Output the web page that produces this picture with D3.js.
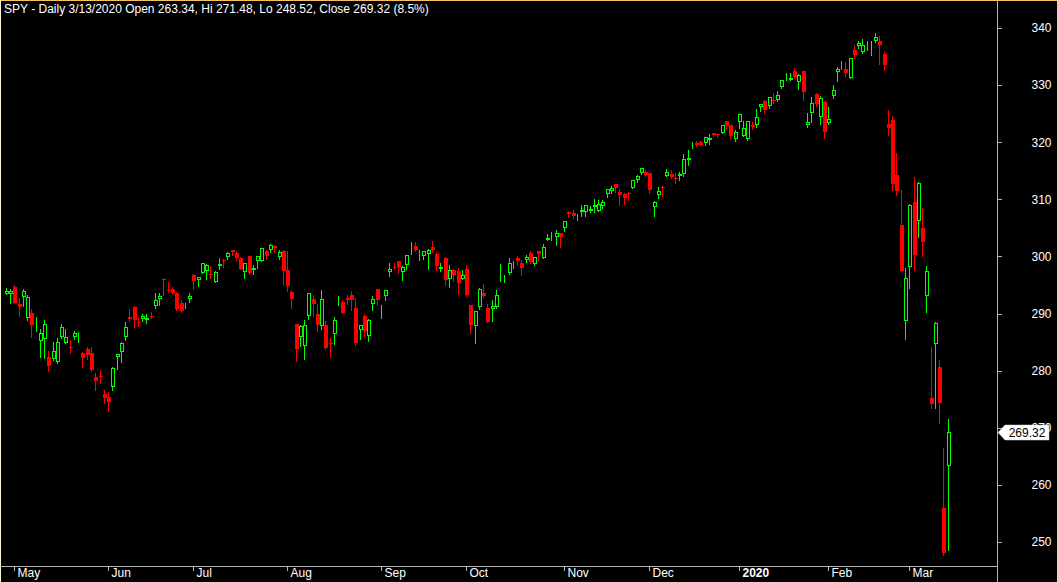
<!DOCTYPE html>
<html><head><meta charset="utf-8">
<script src="https://cdn.jsdelivr.net/npm/d3@7"></script>
<style>
html,body{margin:0;padding:0;background:#000;overflow:hidden}
svg{display:block}
text{font-family:"Liberation Sans",Arial,sans-serif}
</style></head>
<body>
<svg id="chart" width="1057" height="582"></svg>
<script>
// ---- data (SPY daily) ----
const dates = ["2019-04-29","2019-04-30","2019-05-01","2019-05-02","2019-05-03","2019-05-06","2019-05-07","2019-05-08","2019-05-09","2019-05-10","2019-05-13","2019-05-14","2019-05-15","2019-05-16","2019-05-17","2019-05-20","2019-05-21","2019-05-22","2019-05-23","2019-05-24","2019-05-28","2019-05-29","2019-05-30","2019-05-31",
"2019-06-03","2019-06-04","2019-06-05","2019-06-06","2019-06-07","2019-06-10","2019-06-11","2019-06-12","2019-06-13","2019-06-14","2019-06-17","2019-06-18","2019-06-19","2019-06-20","2019-06-21","2019-06-24","2019-06-25","2019-06-26","2019-06-27","2019-06-28",
"2019-07-01","2019-07-02","2019-07-03","2019-07-05","2019-07-08","2019-07-09","2019-07-10","2019-07-11","2019-07-12","2019-07-15","2019-07-16","2019-07-17","2019-07-18","2019-07-19","2019-07-22","2019-07-23","2019-07-24","2019-07-25","2019-07-26","2019-07-29","2019-07-30","2019-07-31",
"2019-08-01","2019-08-02","2019-08-05","2019-08-06","2019-08-07","2019-08-08","2019-08-09","2019-08-12","2019-08-13","2019-08-14","2019-08-15","2019-08-16","2019-08-19","2019-08-20","2019-08-21","2019-08-22","2019-08-23","2019-08-26","2019-08-27","2019-08-28","2019-08-29","2019-08-30",
"2019-09-03","2019-09-04","2019-09-05","2019-09-06","2019-09-09","2019-09-10","2019-09-11","2019-09-12","2019-09-13","2019-09-16","2019-09-17","2019-09-18","2019-09-19","2019-09-20","2019-09-23","2019-09-24","2019-09-25","2019-09-26","2019-09-27","2019-09-30",
"2019-10-01","2019-10-02","2019-10-03","2019-10-04","2019-10-07","2019-10-08","2019-10-09","2019-10-10","2019-10-11","2019-10-14","2019-10-15","2019-10-16","2019-10-17","2019-10-18","2019-10-21","2019-10-22","2019-10-23","2019-10-24","2019-10-25","2019-10-28","2019-10-29","2019-10-30","2019-10-31",
"2019-11-01","2019-11-04","2019-11-05","2019-11-06","2019-11-07","2019-11-08","2019-11-11","2019-11-12","2019-11-13","2019-11-14","2019-11-15","2019-11-18","2019-11-19","2019-11-20","2019-11-21","2019-11-22","2019-11-25","2019-11-26","2019-11-27","2019-11-29",
"2019-12-02","2019-12-03","2019-12-04","2019-12-05","2019-12-06","2019-12-09","2019-12-10","2019-12-11","2019-12-12","2019-12-13","2019-12-16","2019-12-17","2019-12-18","2019-12-19","2019-12-20","2019-12-23","2019-12-24","2019-12-26","2019-12-27","2019-12-30","2019-12-31",
"2020-01-02","2020-01-03","2020-01-06","2020-01-07","2020-01-08","2020-01-09","2020-01-10","2020-01-13","2020-01-14","2020-01-15","2020-01-16","2020-01-17","2020-01-21","2020-01-22","2020-01-23","2020-01-24","2020-01-27","2020-01-28","2020-01-29","2020-01-30","2020-01-31",
"2020-02-03","2020-02-04","2020-02-05","2020-02-06","2020-02-07","2020-02-10","2020-02-11","2020-02-12","2020-02-13","2020-02-14","2020-02-18","2020-02-19","2020-02-20","2020-02-21","2020-02-24","2020-02-25","2020-02-26","2020-02-27","2020-02-28",
"2020-03-02","2020-03-03","2020-03-04","2020-03-05","2020-03-06","2020-03-09","2020-03-10","2020-03-11","2020-03-12","2020-03-13"];

const open = [293.51,293.51,294.72,291.68,292.82,289.25,290.15,287.53,285.23,285.62,282.42,281.99,281.56,285.84,284.84,284.06,285.83,285.45,283.16,283.74,283.09,278.91,279.11,275.99,
275.31,277.14,282.33,283.29,285.93,289.37,291.18,288.46,289.04,288.87,289.52,291.39,292.55,296.04,294.13,294.23,293.68,291.86,291.38,292.58,
296.68,295.82,297.18,297.44,297.01,295.54,298.37,299.32,299.85,301.13,300.65,299.81,297.24,300.00,297.61,299.14,299.19,300.91,301.10,301.88,299.91,300.99,
297.60,293.85,288.09,285.91,284.40,289.62,292.58,289.96,287.74,288.07,284.88,286.48,292.19,291.99,292.64,293.23,290.92,287.10,289.54,286.14,291.72,294.22,
290.57,293.14,297.24,298.16,299.16,297.22,298.46,301.25,301.84,299.84,300.06,300.49,301.71,300.35,297.76,299.66,296.00,297.63,297.43,296.04,
297.74,291.50,287.81,291.14,293.52,291.04,290.75,291.18,296.26,295.93,297.10,298.37,299.68,298.80,299.42,300.58,298.73,300.91,299.74,302.94,303.00,303.43,304.13,
304.92,307.85,307.62,307.03,307.86,307.80,307.94,308.73,307.94,308.87,311.02,311.52,312.68,311.29,310.86,311.09,311.98,313.41,314.61,314.86,
314.59,308.65,310.70,312.23,314.12,314.44,313.82,314.03,314.43,316.96,319.35,319.84,319.96,319.78,320.45,321.59,321.47,321.65,323.74,322.95,320.53,
323.54,321.16,320.49,323.02,322.94,326.16,327.29,326.39,327.47,327.35,329.71,331.70,330.90,332.55,330.63,332.44,323.03,325.06,328.38,324.36,327.00,
323.35,328.07,332.27,333.91,332.82,331.23,336.17,336.83,335.86,337.51,336.51,337.79,337.74,335.47,323.14,323.94,314.18,305.46,288.70,
298.21,309.50,306.12,304.98,293.15,275.30,284.64,280.70,256.00,263.34];

const high = [294.45,294.34,294.95,292.70,294.34,293.31,290.81,289.43,287.33,288.94,283.49,285.10,285.77,288.21,287.22,285.43,286.93,286.69,283.21,284.20,284.15,279.57,280.08,276.70,
276.33,280.69,282.99,285.03,288.58,290.82,291.40,289.25,289.98,289.93,290.22,293.57,293.65,296.31,295.52,294.58,293.73,292.31,291.93,293.55,
296.92,296.47,298.82,298.64,298.26,297.43,299.66,299.58,300.73,301.13,300.88,299.97,298.85,300.07,298.47,300.03,301.46,301.09,302.23,301.93,301.17,301.20,
300.87,294.12,288.21,288.04,288.82,293.62,293.23,291.61,294.15,288.74,285.64,289.33,293.08,292.43,293.19,294.02,292.76,288.00,289.95,289.07,293.16,294.24,
291.58,294.06,298.83,298.82,299.24,298.31,300.34,302.46,302.58,301.14,301.00,301.31,302.63,300.71,298.93,299.95,298.50,297.80,297.90,297.55,
298.46,291.51,290.45,294.52,295.26,291.70,292.30,294.21,298.74,296.67,299.70,299.17,300.16,299.40,300.21,300.90,299.94,300.99,302.20,303.85,304.23,304.55,304.13,
306.19,308.00,308.18,307.44,309.00,309.00,308.82,310.13,309.92,309.87,311.84,312.28,312.69,311.85,311.15,311.24,313.37,314.28,315.48,315.13,
314.66,309.64,312.12,312.25,315.31,315.18,314.55,314.70,317.99,318.67,320.00,320.15,320.25,320.90,321.45,321.65,321.52,322.95,323.80,323.10,322.13,
324.89,323.64,323.73,323.54,325.78,326.73,327.46,327.96,328.62,329.02,330.92,332.18,332.18,332.95,332.00,332.53,325.12,327.85,328.63,328.09,327.17,
326.16,330.01,333.09,334.19,333.99,334.75,337.02,337.65,338.12,337.73,337.67,339.08,338.64,335.81,325.60,324.58,318.11,311.56,297.89,
309.16,313.84,313.10,308.47,298.40,284.19,288.52,281.94,266.40,271.48];

const low = [293.41,291.92,291.80,289.52,291.30,288.90,285.81,286.87,282.40,282.30,279.93,281.85,281.36,285.76,284.77,283.07,285.55,285.10,280.57,282.09,279.93,276.59,277.79,274.30,
273.02,276.62,280.32,281.55,285.45,288.71,287.68,287.88,288.61,288.42,289.18,290.99,291.47,293.17,293.76,293.47,290.64,290.25,290.97,292.01,
294.33,294.90,297.02,296.12,296.22,295.44,297.78,298.20,299.64,300.19,299.44,297.74,296.21,296.96,297.01,297.95,299.19,299.62,300.73,300.85,299.49,295.20,
293.96,290.90,281.72,284.28,282.04,289.01,289.65,287.02,287.36,283.76,282.39,284.71,291.44,290.17,291.68,290.70,284.50,285.58,286.03,285.25,290.61,291.42,
289.27,292.31,296.60,297.74,297.16,295.95,297.76,300.41,300.90,299.46,299.49,297.83,300.73,297.65,297.50,294.99,294.73,295.67,293.40,295.99,
293.00,286.64,284.82,290.87,292.83,288.50,288.65,291.00,295.65,295.57,296.97,297.92,298.44,296.70,298.94,298.91,298.50,299.16,299.68,302.91,302.86,301.99,301.74,
304.42,306.89,306.70,306.34,307.04,307.06,307.70,307.85,307.92,308.42,310.38,311.03,311.22,309.06,309.25,309.85,311.98,313.06,314.37,314.06,
311.17,307.13,310.32,310.58,314.11,313.80,312.81,313.44,314.17,316.02,319.04,319.26,319.53,319.44,319.66,321.06,320.90,321.64,322.28,320.55,320.15,
322.53,321.10,320.36,322.24,322.67,325.52,325.20,325.92,326.84,327.26,329.45,330.82,330.82,331.17,329.31,327.36,322.66,323.60,326.40,323.22,320.73,
323.22,327.72,330.67,332.80,331.60,331.19,334.68,336.43,335.56,336.20,335.21,337.48,333.68,332.58,321.30,311.69,310.70,297.51,285.54,
294.46,297.57,303.33,300.01,290.31,273.45,273.45,270.88,247.68,248.52];

const close = [293.87,294.02,291.81,291.18,294.03,292.82,287.93,287.53,286.66,288.10,280.86,283.40,285.06,287.70,285.84,283.95,286.51,285.63,282.14,282.78,280.15,278.27,279.03,275.27,
274.57,280.53,282.96,284.80,287.65,288.97,288.90,288.39,289.58,289.26,289.37,292.40,293.06,295.86,294.00,293.64,290.76,290.47,291.50,293.00,
295.66,296.43,298.80,298.46,296.82,297.19,298.61,299.31,300.65,300.75,299.71,297.74,298.83,297.17,297.90,300.03,301.44,300.00,302.01,301.46,300.72,297.43,
294.84,292.62,283.82,287.80,287.97,293.62,291.62,288.07,292.55,283.90,284.65,288.85,292.33,290.09,292.45,292.36,284.85,288.00,286.87,288.89,292.58,292.45,
290.74,294.04,297.81,298.05,298.20,298.13,300.25,301.29,301.09,300.16,300.92,301.10,301.08,298.28,298.21,295.87,297.62,296.77,295.40,296.77,
293.24,288.06,290.42,294.35,293.08,288.53,291.27,293.24,296.28,295.95,298.88,298.40,299.28,297.97,299.99,299.01,299.88,300.37,301.60,303.30,303.21,304.14,303.33,
306.14,307.37,307.03,307.10,308.18,308.94,308.35,309.00,309.10,309.55,311.79,312.02,311.93,310.78,310.27,310.96,313.37,314.08,315.48,314.31,
311.64,309.55,311.46,312.02,314.87,313.88,313.53,314.42,317.13,317.32,319.50,319.57,319.59,320.90,320.73,321.22,321.23,322.94,322.86,321.08,321.86,
324.87,322.41,323.64,322.73,324.45,326.65,325.71,327.95,327.45,328.19,330.92,331.95,331.30,331.34,331.72,328.77,323.50,326.89,326.62,327.68,321.73,
324.12,329.06,332.86,333.98,332.20,334.68,335.26,337.42,337.06,337.60,336.73,338.34,336.95,333.48,322.42,312.65,311.50,297.51,296.26,
309.09,300.24,312.86,302.46,297.46,274.23,288.42,274.36,248.11,269.32];

const yTicks = [250,260,270,280,290,300,310,320,330,340];
const monthLabels = ["May","Jun","Jul","Aug","Sep","Oct","Nov","Dec","2020","Feb","Mar"];
const titleText = "SPY - Daily 3/13/2020 Open 263.34, Hi 271.48, Lo 248.52, Close 269.32 (8.5%)";
const lastPrice = 269.32;

// ---- layout ----
const W = 1057, H = 582;
const axisX = 997, axisY = 566;
const svg = d3.select("#chart");
svg.append("rect").attr("width", W).attr("height", H).attr("fill", "#000");

const x = d3.scaleLinear().domain([2, 193]).range([15.3, 829.3]);
const y = d3.scaleLinear().domain([250, 340]).range([542, 28]);

const data = dates.map((d, i) => ({i, d, o: open[i], h: high[i], l: low[i], c: close[i]}));
const px = i => Math.round(x(i));

// candles
const g = svg.append("g").attr("shape-rendering", "crispEdges");
const RED = "#ff0000", GREEN = "#00ff00";
g.selectAll("line.wick").data(data).join("line")
  .attr("class", "wick")
  .attr("x1", d => px(d.i) - 0.5).attr("x2", d => px(d.i) - 0.5)
  .attr("y1", d => Math.round(y(d.h))).attr("y2", d => Math.round(y(d.l)) + 1)
  .attr("stroke", d => d.c >= d.o ? GREEN : RED).attr("stroke-width", 1);

const downs = data.filter(d => d.c < d.o);
g.selectAll("rect.down").data(downs).join("rect")
  .attr("class", "down")
  .attr("x", d => px(d.i) - 2).attr("width", 4)
  .attr("y", d => Math.round(y(d.o)))
  .attr("height", d => Math.max(1, Math.round(y(d.c)) - Math.round(y(d.o))))
  .attr("fill", RED);

const ups = data.filter(d => d.c >= d.o);
g.selectAll("rect.up").data(ups).join("rect")
  .attr("class", "up")
  .attr("x", d => px(d.i) - 1.5).attr("width", 3)
  .attr("y", d => Math.round(y(d.c)) + 0.5)
  .attr("height", d => Math.max(0, Math.round(y(d.o)) - Math.round(y(d.c)) - 1))
  .attr("fill", "#000").attr("stroke", GREEN).attr("stroke-width", 1);

// borders & axes lines
svg.append("line").attr("x1", 0).attr("x2", W).attr("y1", 0.5).attr("y2", 0.5)
  .attr("stroke", "#f7c35f").attr("shape-rendering", "crispEdges");
svg.append("line").attr("x1", 0.5).attr("x2", 0.5).attr("y1", 0).attr("y2", H)
  .attr("stroke", "#fff4d0").attr("shape-rendering", "crispEdges");
svg.append("line").attr("x1", axisX + 0.5).attr("x2", axisX + 0.5).attr("y1", 1).attr("y2", H)
  .attr("stroke", "#b4b4b4").attr("shape-rendering", "crispEdges");
svg.append("line").attr("x1", 0).attr("x2", axisX).attr("y1", axisY + 0.5).attr("y2", axisY + 0.5)
  .attr("stroke", "#b4b4b4").attr("shape-rendering", "crispEdges");

// right price axis
const yAxis = d3.axisRight(y).tickValues(yTicks).tickSize(4).tickPadding(30).tickFormat(d3.format("d"));
const ya = svg.append("g").attr("transform", `translate(${axisX + 0.5},0)`).call(yAxis);
ya.select(".domain").remove();
ya.selectAll(".tick line").attr("stroke", "#b4b4b4").attr("shape-rendering", "crispEdges");
ya.selectAll(".tick text").attr("fill", "#ffffff").attr("font-size", 12)
  .attr("font-family", "\"Liberation Sans\", Arial, sans-serif");

// month axis
const monthIdx = [];
data.forEach((d, i) => { if (i > 0 && d.d.slice(5,7) !== data[i-1].d.slice(5,7)) monthIdx.push(i); });
const xAxis = d3.axisBottom(x).tickValues(monthIdx).tickSize(4).tickFormat((d, k) => monthLabels[k]);
const xa = svg.append("g").attr("transform", `translate(0,${axisY + 0.5})`).call(xAxis);
xa.select(".domain").remove();
xa.selectAll(".tick").attr("transform", d => `translate(${px(d) - 0.5},0)`);
xa.selectAll(".tick line").attr("stroke", "#b4b4b4").attr("shape-rendering", "crispEdges");
xa.selectAll(".tick text").attr("fill", "#ffffff").attr("font-size", 12)
  .attr("font-family", "\"Liberation Sans\", Arial, sans-serif")
  .attr("text-anchor", "start").attr("x", 3).attr("y", 2).attr("dy", "0.71em")
  .attr("font-weight", (d, k) => monthLabels[k] === "2020" ? "bold" : "normal");

// last price tag
const ty = Math.round(y(lastPrice)) + 0.5;
const tag = svg.append("g");
tag.append("path")
  .attr("d", `M${axisX + 1},${ty} L${axisX + 8},${ty - 7.5} L${axisX + 52},${ty - 7.5} L${axisX + 52},${ty + 7.5} L${axisX + 8},${ty + 7.5} Z`)
  .attr("fill", "#ffffff").attr("stroke", "#d0d0d0").attr("stroke-width", 0.5);
tag.append("text").attr("x", axisX + 30).attr("y", ty + 4.5)
  .attr("text-anchor", "middle").attr("font-size", 12).attr("fill", "#000")
  .text(d3.format(".2f")(lastPrice));

// title
svg.append("text").attr("x", 4).attr("y", 13).attr("font-size", 12).attr("fill", "#ffffff")
  .text(titleText);
</script>
</body></html>
